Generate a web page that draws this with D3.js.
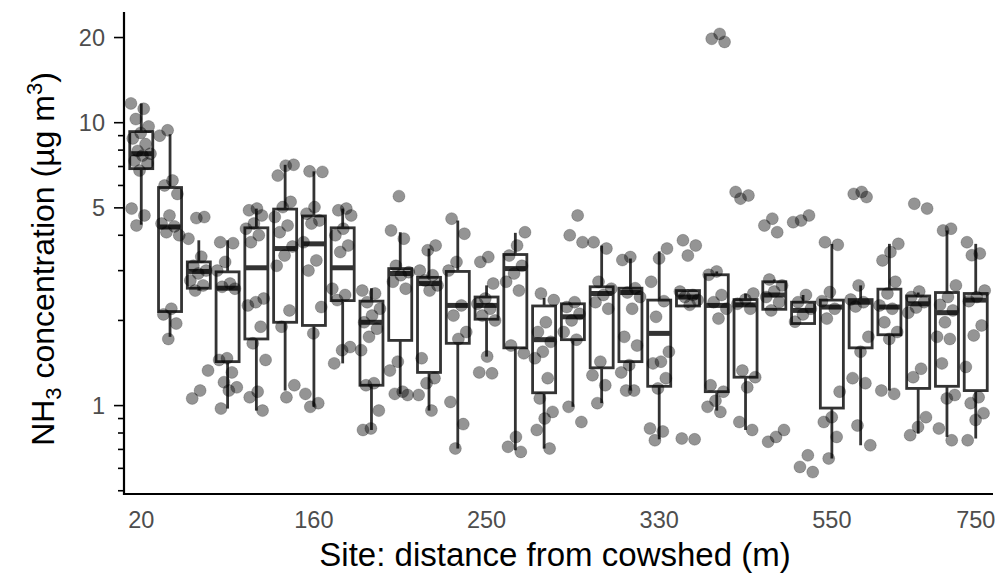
<!DOCTYPE html>
<html>
<head>
<meta charset="utf-8">
<script src="https://cdn.jsdelivr.net/npm/d3@7"></script>
<style>
  html, body { margin: 0; padding: 0; background: #fff; }
  svg { display: block; font-family: "Liberation Sans", Arial, sans-serif; }
</style>
</head>
<body>
<div id="chart"></div>
<script>
// sites along the transect, left to right
const sites = ["S01","S02","S03","S04","S05","S06","S07","S08","S09","S10",
               "S11","S12","S13","S14","S15","S16","S17","S18","S19","S20",
               "S21","S22","S23","S24","S25","S26","S27","S28","S29","S30"];
// only some sites get a distance label on the x axis
const tickSites = ["S01","S07","S13","S19","S25","S30"];
const tickLabels = ["20","160","250","330","550","750"];

// box statistics (ug m-3)
const q1     = [6.88,2.15,2.6,1.43,1.72,1.97,1.92,2.35,1.18,1.7, 1.31,1.66,2.02,1.6,1.11,1.71,1.36,1.43,1.17,2.25, 1.12,1.26,2.19,1.95,0.98,1.6,1.78,1.15,1.17,1.13];
const median = [7.77,4.28,2.98,2.6,3.07,3.59,3.73,3.07,1.97,2.93, 2.7,2.26,2.26,3.05,1.71,2.06,2.49,2.51,1.8,2.42, 2.26,2.27,2.46,2.17,2.23,2.32,2.23,2.29,2.13,2.36];
const q3     = [9.3,5.9,3.22,2.97,4.25,4.95,4.68,4.25,2.34,3.05, 2.84,2.98,2.42,3.42,2.25,2.29,2.63,2.6,2.36,2.55, 2.9,2.37,2.74,2.32,2.36,2.37,2.58,2.44,2.51,2.49];
const whiskLo = [4.36,1.75,2.55,0.976,0.96,1.13,0.99,1.41,0.82,1.1, 0.96,0.705,1.49,0.695,0.705,0.99,1.02,1.13,0.76,2.22, 0.96,0.82,2.17,1.95,0.65,0.724,1.13,0.796,0.775,0.765];
const whiskHi = [11.7,9.1,3.84,3.84,4.97,7.1,6.73,4.97,2.6,4.1, 3.59,4.51,2.66,4.08,2.4,2.29,3.68,3.31,3.51,2.58, 2.98,2.49,2.79,2.46,3.73,2.66,3.73,2.51,4.16,3.73];

// individual measurements per site
const samples = [
  [11.7,11.2,10.3,9.7,9.2,8.8,8.4,7.95,7.77,7.65,7.33,7.17,6.77,4.97,4.7,4.33],
  [9.4,9.0,6.25,6.0,5.6,4.7,4.4,4.3,4.1,4.0,2.2,2.1,1.95,1.72],
  [4.64,4.6,3.89,3.36,3.12,3.0,2.93,2.77,2.66,2.55,1.33,1.13,1.06],
  [3.78,3.75,3.22,3.0,2.7,2.63,2.59,1.47,1.45,1.31,1.21,1.16,1.13,0.976],
  [4.97,4.9,4.7,4.4,4.22,4.0,3.78,2.39,2.32,2.26,1.9,1.66,1.45,1.12,1.07,0.96],
  [7.1,7.05,6.5,5.25,5.03,4.64,4.33,4.1,3.65,3.39,3.12,2.17,1.9,1.18,1.07],
  [6.73,6.7,5.03,4.77,4.51,4.4,3.78,3.26,3.0,2.23,1.8,1.1,1.02,0.99],
  [4.97,4.9,4.7,4.22,4.0,3.68,3.49,2.59,2.46,2.36,1.61,1.57,1.41],
  [2.55,2.49,2.32,2.2,2.08,1.97,1.87,1.75,1.57,1.2,1.18,0.96,0.83,0.82],
  [5.5,4.16,3.89,3.12,2.96,2.89,2.74,2.59,1.43,1.33,1.12,1.1,1.09],
  [3.68,3.54,3.0,2.89,2.77,2.66,2.55,1.47,1.25,1.2,1.09,0.96],
  [4.58,4.05,3.22,3.0,2.26,2.08,1.82,1.72,1.03,0.86,0.705],
  [3.35,3.22,2.7,2.39,2.29,2.2,2.08,2.0,1.49,1.31,1.3],
  [4.1,3.68,3.39,3.12,2.93,2.74,2.55,1.63,1.53,0.775,0.715,0.686],
  [2.49,2.36,1.97,1.82,1.68,1.55,1.47,1.25,1.06,0.95,0.9,0.82,0.705],
  [4.7,4.0,3.78,2.32,2.23,2.11,2.0,1.82,1.71,0.99,0.875],
  [3.78,3.59,2.74,2.59,2.46,2.32,2.2,1.43,1.28,1.18,1.02],
  [3.35,3.27,2.6,2.51,2.42,2.2,1.75,1.63,1.39,1.31,1.13,1.13],
  [3.59,3.31,2.74,2.34,2.06,1.55,1.43,1.41,1.25,1.15,0.83,0.81,0.754],
  [3.84,3.68,3.39,2.53,2.46,2.42,2.36,2.27,0.765,0.76],
  [20.6,19.8,19.3,2.98,2.9,2.46,2.32,2.2,2.03,1.18,1.12,1.04,0.99,0.95],
  [5.69,5.53,5.39,2.49,2.37,2.29,2.2,1.33,1.26,1.16,0.875,0.82],
  [4.58,4.33,4.1,2.79,2.66,2.53,2.42,2.32,2.17,0.82,0.775,0.745],
  [4.7,4.51,4.45,2.46,2.32,2.2,2.1,1.98,0.667,0.607,0.582],
  [3.78,3.7,2.52,2.34,2.2,2.03,1.12,0.91,0.875,0.775,0.65],
  [5.69,5.6,5.46,2.66,2.37,2.32,2.24,1.75,1.55,1.25,1.2,0.85,0.724],
  [3.73,3.49,3.26,2.74,2.49,2.26,2.2,1.97,1.82,1.72,1.13,1.1],
  [5.17,4.97,2.53,2.42,2.32,2.22,2.13,1.35,1.26,0.91,0.84,0.786],
  [4.22,4.16,2.66,2.42,2.27,2.17,1.97,1.75,1.72,1.41,1.09,1.06,0.83,0.754],
  [3.78,3.45,3.4,2.55,2.42,2.34,1.92,1.77,1.37,1.07,1.02,0.94,0.89,0.754]
];

const yMajor = [1, 5, 10, 20];
const yMinor = [0.5, 0.6, 0.7, 0.8, 0.9, 2, 3, 4, 6, 7, 8, 9];

const width = 1005, height = 575;
const m = { left: 124, right: 993, top: 12, bottom: 494 };

const svg = d3.select('#chart').append('svg').attr('width', width).attr('height', height);

const xScale = d3.scalePoint().domain(sites).range([m.left, m.right]).padding(0.6);
const step = xScale.step();
const boxW = step * 0.8;

// log scale with ggplot-like 5% expansion
const allVals = samples.flat();
const lmin = Math.log10(d3.min(allVals)), lmax = Math.log10(d3.max(allVals));
const pad = (lmax - lmin) * 0.05;
const yScale = d3.scaleLog().domain([10 ** (lmin - pad), 10 ** (lmax + pad)]).range([m.bottom, m.top]);

// boxes
const boxes = svg.append('g').attr('stroke', '#333333').attr('fill', '#fff');
sites.forEach((s, i) => {
  const cx = xScale(s);
  boxes.append('line').attr('x1', cx).attr('x2', cx).attr('y1', yScale(whiskHi[i])).attr('y2', yScale(q3[i])).attr('stroke-width', 2.8);
  boxes.append('line').attr('x1', cx).attr('x2', cx).attr('y1', yScale(q1[i])).attr('y2', yScale(whiskLo[i])).attr('stroke-width', 2.8);
  boxes.append('rect').attr('x', cx - boxW / 2).attr('width', boxW)
    .attr('y', yScale(q3[i])).attr('height', yScale(q1[i]) - yScale(q3[i]))
    .attr('stroke-width', 2.8);
  boxes.append('line').attr('x1', cx - boxW / 2).attr('x2', cx + boxW / 2)
    .attr('y1', yScale(median[i])).attr('y2', yScale(median[i])).attr('stroke-width', 5);
});

// jittered points (deterministic spread)
const pts = svg.append('g');
sites.forEach((s, i) => {
  const cx = xScale(s);
  samples[i].forEach((v, j) => {
    const u = ((j * 0.618034 + i * 0.381966) % 1) - 0.5;
    pts.append('circle')
      .attr('cx', cx + u * 2 * step * 0.36)
      .attr('cy', yScale(v))
      .attr('r', 6)
      .attr('fill', '#000').attr('fill-opacity', 0.42)
      .attr('stroke', '#000').attr('stroke-opacity', 0.2).attr('stroke-width', 1);
  });
});

// axes
const ax = svg.append('g').attr('stroke', '#000');
ax.append('line').attr('x1', m.left).attr('x2', m.left).attr('y1', m.top).attr('y2', m.bottom + 1).attr('stroke-width', 2.2);
ax.append('line').attr('x1', m.left - 1).attr('x2', m.right).attr('y1', m.bottom).attr('y2', m.bottom).attr('stroke-width', 2.2);

yMajor.forEach(v => {
  ax.append('line').attr('x1', m.left - 10).attr('x2', m.left).attr('y1', yScale(v)).attr('y2', yScale(v)).attr('stroke-width', 1.6);
  svg.append('text').attr('x', m.left - 19).attr('y', yScale(v)).attr('dy', '0.36em')
    .attr('text-anchor', 'end').attr('fill', '#4d4d4d').style('font-size', '23.5px').text(d3.format('~g')(v));
});
yMinor.filter(v => v >= yScale.domain()[0]).forEach(v => {
  ax.append('line').attr('x1', m.left - 6).attr('x2', m.left).attr('y1', yScale(v)).attr('y2', yScale(v)).attr('stroke-width', 1.6);
});

tickSites.forEach((s, i) => {
  svg.append('text').attr('x', xScale(s)).attr('y', 528).attr('text-anchor', 'middle')
    .attr('fill', '#4d4d4d').style('font-size', '23.5px').text(tickLabels[i]);
});

// titles
svg.append('text').attr('x', 555).attr('y', 566).attr('text-anchor', 'middle')
  .style('font-size', '33px').attr('fill', '#000').text('Site: distance from cowshed (m)');

const yt = svg.append('text').attr('transform', 'translate(54,259) rotate(-90)')
  .attr('text-anchor', 'middle').style('font-size', '32px').attr('fill', '#000');
yt.append('tspan').text('NH');
yt.append('tspan').attr('dy', 7).style('font-size', '22px').text('3');
yt.append('tspan').attr('dy', -7).text(' concentration (\u00b5g m');
yt.append('tspan').attr('dy', -12).style('font-size', '22px').text('3');
yt.append('tspan').attr('dy', 12).text(')');
</script>
</body>
</html>
